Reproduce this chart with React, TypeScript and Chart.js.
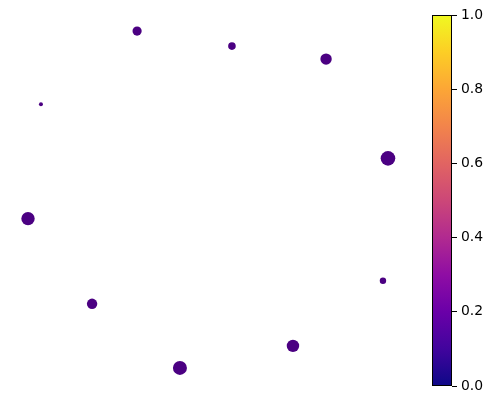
import React, { useEffect, useRef } from "react";
import { Chart, registerables } from "chart.js";

Chart.register(...registerables);

const xValues = [-0.394, 0.133, 0.656, -0.928, 1.0, -1.0, 0.972, -0.644, 0.472, -0.156];
const yValues = [0.933, 0.85, 0.778, 0.528, 0.228, -0.106, -0.45, -0.578, -0.811, -0.933];
const radii = [4.6, 3.8, 5.7, 2.0, 7.3, 6.7, 3.2, 5.2, 6.2, 7.0];
const pointColor = "#4b0082";
const colorbarTicks = [0, 0.2, 0.4, 0.6, 0.8, 1.0];
const plasmaStops = [
  "#0d0887", "#41049d", "#6a00a8", "#8f0da4", "#b12a90", "#cc4778",
  "#e16462", "#f2844b", "#fca636", "#fcce25", "#f0f921",
];

const colorbarPlugin = {
  id: "colorbar",
  beforeDatasetsDraw(chart: any) {
    const { ctx, chartArea } = chart;
    const right = chartArea.right;
    const left = right - 20;
    const top = chartArea.top;
    const bottom = chartArea.bottom;
    const g = ctx.createLinearGradient(0, bottom, 0, top);
    plasmaStops.forEach((c, i) => g.addColorStop(i / (plasmaStops.length - 1), c));
    ctx.save();
    ctx.fillStyle = g;
    ctx.fillRect(left, top, right - left, bottom - top);
    ctx.strokeStyle = "#000";
    ctx.lineWidth = 1;
    ctx.strokeRect(left + 0.5, top + 0.5, right - left - 1, bottom - top - 1);
    ctx.restore();
  },
};

export default function App() {
  const ref = useRef<HTMLCanvasElement>(null);
  useEffect(() => {
    if (!ref.current) return;
    const chart = new Chart(ref.current, {
      type: "scatter",
      data: {
        datasets: [
          {
            data: xValues.map((x, i) => ({ x, y: yValues[i] })),
            pointRadius: radii,
            pointHoverRadius: radii,
            backgroundColor: pointColor,
            borderWidth: 0,
            yAxisID: "y",
          },
        ],
      },
      options: {
        animation: false,
        responsive: false,
        events: [],
        layout: { autoPadding: false, padding: { left: 0, top: 15, bottom: 17, right: 0 } },
        plugins: { legend: { display: false }, tooltip: { enabled: false } },
        scales: {
          x: { type: "linear", display: false, min: -1.1556, max: 1.3556 },
          y: { type: "linear", display: false, min: -1.0333, max: 1.0222 },
          c: {
            type: "linear",
            position: "right",
            min: 0,
            max: 1,
            afterBuildTicks(scale: any) {
              scale.ticks = colorbarTicks.map((v) => ({ value: v }));
            },
            afterFit(scale: any) {
              scale.width = 39;
            },
            grid: { drawOnChartArea: false, tickLength: 5, tickColor: "#000", tickWidth: 1 },
            border: { display: false },
            ticks: {
              color: "#000",
              padding: 4,
              font: { family: "DejaVu Sans", size: 13.9 },
              callback: (v: any) => Number(v).toFixed(1),
            },
          },
        },
      },
      plugins: [colorbarPlugin],
    });
    return () => chart.destroy();
  }, []);
  return (
    <div style={{ position: "fixed", left: 0, top: 0, width: 491, height: 403, background: "#fff" }}>
      <canvas ref={ref} width={491} height={403} style={{ width: 491, height: 403 }} />
    </div>
  );
}
